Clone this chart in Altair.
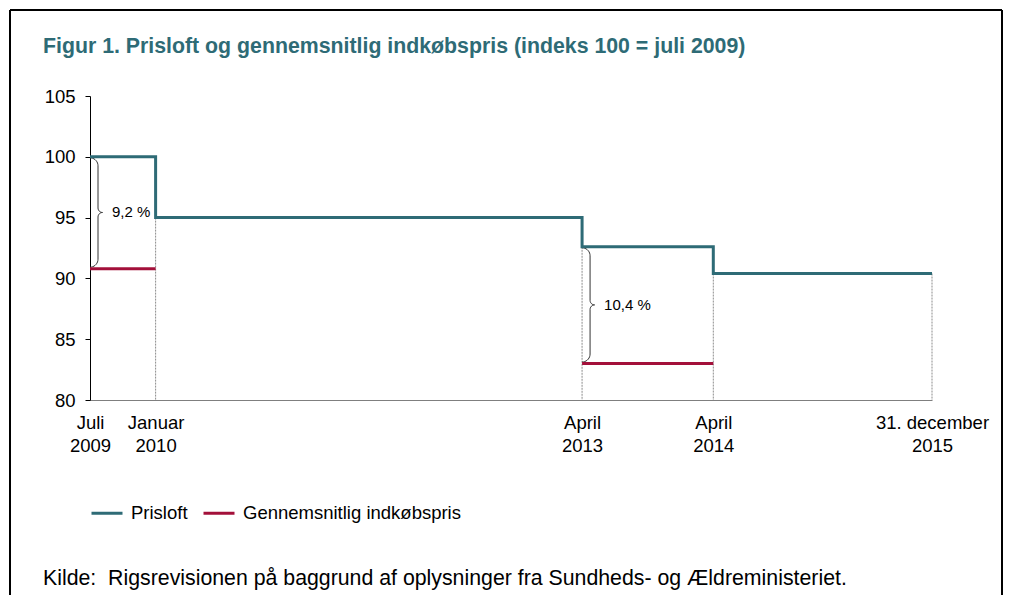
import json
import math
import altair as alt
import pandas as pd

# ---------------- data ----------------
prisloft_dates = ["2009-07-01", "2010-01-01", "2013-04-01", "2014-04-01", "2015-12-31"]
prisloft_values = [100.0, 95.0, 92.6, 90.4, 90.4]

indkob_start = ["2009-07-01", "2013-04-01"]
indkob_end = ["2010-01-01", "2014-04-01"]
indkob_values = [90.8, 83.0]
gap_labels = ["9,2 %", "10,4 %"]

tick_dates = ["2009-07-01", "2010-01-01", "2013-04-01", "2014-04-01", "2015-12-31"]
tick_line1 = ["Juli", "Januar", "April", "April", "31. december"]
tick_line2 = ["2009", "2010", "2013", "2014", "2015"]

series_names = ["Prisloft", "Gennemsnitlig indkøbspris"]
series_colors = ["#2E6B76", "#A3103A"]

title_text = "Figur 1. Prisloft og gennemsnitlig indkøbspris (indeks 100 = juli 2009)"
source_text = "Kilde:\u00a0\u00a0Rigsrevisionen på baggrund af oplysninger fra Sundheds- og Ældreministeriet."

# ---------------- layout ----------------
W, H = 842, 304
Y_MIN, Y_MAX = 80, 105


def month_index(d):
    t = pd.Timestamp(d)
    return (t.year - 2009) * 12 + (t.month - 7)


X_MAX = month_index(prisloft_dates[-1])
px_x = X_MAX / W          # months per pixel
px_y = (Y_MAX - Y_MIN) / H  # index units per pixel

xscale = alt.Scale(domain=[0, X_MAX], nice=False, zero=False)
yscale = alt.Scale(domain=[Y_MIN, Y_MAX], nice=False, zero=False)
cscale = alt.Scale(domain=series_names, range=series_colors)

# step line
pris_df = pd.DataFrame({
    "m": [month_index(d) for d in prisloft_dates],
    "v": prisloft_values,
    "serie": series_names[0],
})

# drop lines at each change and end
drop_df = pd.DataFrame({
    "m": [month_index(d) for d in prisloft_dates[1:]],
    "v": prisloft_values[1:],
    "base": Y_MIN,
})

# average purchase price segments
rows = []
for i, (s, e, v) in enumerate(zip(indkob_start, indkob_end, indkob_values)):
    rows.append({"m": month_index(s), "v": v, "seg": i, "serie": series_names[1]})
    rows.append({"m": month_index(e), "v": v, "seg": i, "serie": series_names[1]})
ind_df = pd.DataFrame(rows)

# braces between price cap and average price
brace_rows = []
lab_rows = []
for i, (s, v, lab) in enumerate(zip(indkob_start, indkob_values, gap_labels)):
    m0 = month_index(s)
    idx = prisloft_dates.index(s)
    top = prisloft_values[idx] - 1 * px_y
    bot = v + 1.5 * px_y
    Hpx = (top - bot) / px_y
    r1, r2 = 8.0, 4.5
    half = []
    for k in range(0, 10):
        t = math.pi / 2 * k / 9
        half.append((r1 * math.sin(t), r1 - r1 * math.cos(t)))
    for k in range(0, 7):
        t = math.pi / 2 * k / 6
        half.append((r1 + r2 - r2 * math.cos(t), Hpx / 2 - r2 + r2 * math.sin(t)))
    full = half + [(x, Hpx - y) for (x, y) in reversed(half[:-1])]
    for j, (x, y) in enumerate(full):
        brace_rows.append({"m": m0 + x * px_x, "v": top - y * px_y, "b": i, "o": j})
    lab_rows.append({"m": m0, "v": (top + bot) / 2, "t": lab})
brace_df = pd.DataFrame(brace_rows)
lab_df = pd.DataFrame(lab_rows)

# axis labels
label_map = {str(month_index(d)): [a, b] for d, a, b in zip(tick_dates, tick_line1, tick_line2)}
label_expr = json.dumps(label_map, ensure_ascii=False) + "[''+datum.value]"
tick_vals = [month_index(d) for d in tick_dates]

FONT = "Liberation Sans"

x_enc = alt.X("m:Q", scale=xscale, title=None,
              axis=alt.Axis(values=tick_vals, labelExpr=label_expr, ticks=False, tickSize=0,
                            grid=False, domainColor="#7f7f7f", labelFontSize=18.5,
                            labelLineHeight=23, labelPadding=13, labelBaseline="top",
                            labelOverlap=False, labelFlush=False, labelBound=False,
                            labelColor="#000000", labelFont=FONT))
y_enc = alt.Y("v:Q", scale=yscale, title=None,
              axis=alt.Axis(values=[80, 85, 90, 95, 100, 105], grid=False, tickSize=5,
                            tickColor="#000000", domainColor="#000000", labelFontSize=18.5,
                            labelPadding=10, labelColor="#000000", labelFont=FONT))

drops = alt.Chart(drop_df).mark_rule(color="#8c8c8c", strokeWidth=1, strokeDash=[2, 1]).encode(
    x=alt.X("m:Q", scale=xscale), y=alt.Y("v:Q", scale=yscale), y2="base:Q")

pris = alt.Chart(pris_df).mark_line(interpolate="step-after", strokeWidth=3).encode(
    x=x_enc, y=y_enc,
    color=alt.Color("serie:N", scale=cscale, title=None,
                    legend=alt.Legend(orient="none", legendX=0, legendY=400, direction="horizontal",
                                      symbolType="stroke", symbolSize=961, symbolStrokeWidth=3,
                                      labelFontSize=18.5, labelFont=FONT, labelColor="#000000",
                                      labelOffset=7, labelLimit=0, columnPadding=9, padding=0,
                                      title=None)))

ind = alt.Chart(ind_df).mark_line(strokeWidth=3).encode(
    x=alt.X("m:Q", scale=xscale), y=alt.Y("v:Q", scale=yscale),
    color=alt.Color("serie:N", scale=cscale), detail="seg:N")

brace = alt.Chart(brace_df).mark_line(color="#333333", strokeWidth=1).encode(
    x=alt.X("m:Q", scale=xscale), y=alt.Y("v:Q", scale=yscale), detail="b:N", order="o:Q")

labels = alt.Chart(lab_df).mark_text(align="left", baseline="middle", dx=22, fontSize=15,
                                     font=FONT, color="#000000").encode(
    x=alt.X("m:Q", scale=xscale), y=alt.Y("v:Q", scale=yscale), text="t:N")

one = pd.DataFrame({"a": [0]})
title = alt.Chart(one).mark_text(align="left", baseline="alphabetic", fontSize=21.3, fontWeight="bold",
                                 font=FONT, color="#2E6B76", text=title_text).encode(
    x=alt.value(-47), y=alt.value(-43))
source = alt.Chart(one).mark_text(align="left", baseline="alphabetic", fontSize=21.3,
                                  font=FONT, color="#000000", text=source_text).encode(
    x=alt.value(-47), y=alt.value(489))

frame_top = alt.Chart(one).mark_rule(color="#000000", strokeWidth=2).encode(
    x=alt.value(-80), x2=alt.value(912), y=alt.value(-86))
frame_left = alt.Chart(one).mark_rule(color="#000000", strokeWidth=2).encode(
    x=alt.value(-80), y=alt.value(-86), y2=alt.value(520))
frame_right = alt.Chart(one).mark_rule(color="#000000", strokeWidth=2).encode(
    x=alt.value(912), y=alt.value(-86), y2=alt.value(520))

chart = alt.layer(drops, brace, labels, ind, pris, title, source,
                  frame_top, frame_left, frame_right).properties(
    width=W, height=H,
    padding={"left": 82, "top": 88, "right": 71, "bottom": 195},
    autosize=alt.AutoSizeParams(type="none"),
    background="#ffffff",
).configure_view(stroke=None)

chart.save("out.html", embed_options={"renderer": "svg", "actions": False})
